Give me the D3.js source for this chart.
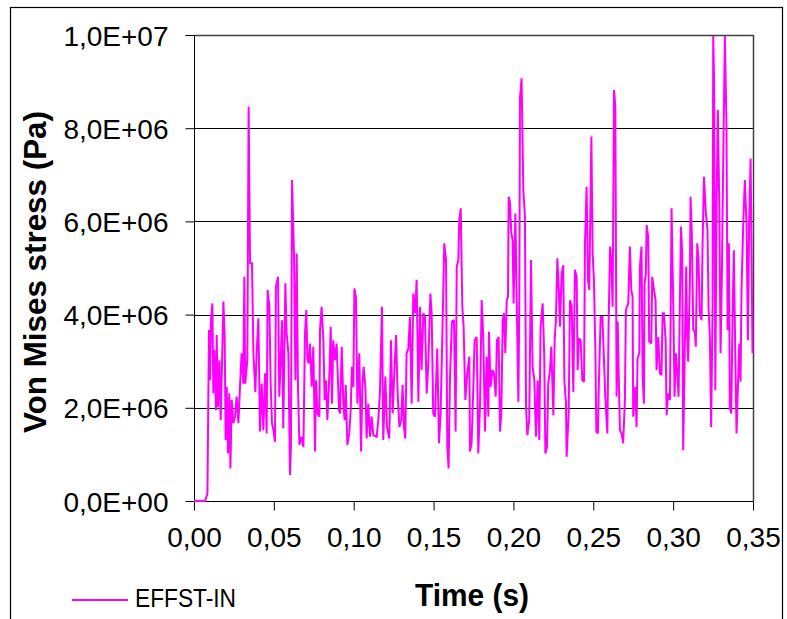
<!DOCTYPE html>
<html>
<head>
<meta charset="utf-8">
<script src="https://cdn.jsdelivr.net/npm/d3@7"></script>
<style>
  html, body { margin: 0; padding: 0; background: #fff; }
  svg { display: block; }
  text { font-family: "Liberation Sans", Arial, sans-serif; }
</style>
</head>
<body>
<div id="chart"></div>
<script>
// ---- data ----
const seriesName = "EFFST-IN";
const xTickValues = [0, 0.05, 0.10, 0.15, 0.20, 0.25, 0.30, 0.35];
const xTickLabels = ["0,00", "0,05", "0,10", "0,15", "0,20", "0,25", "0,30", "0,35"];
const yTickValues = [0, 2e6, 4e6, 6e6, 8e6, 1e7];
const yTickLabels = ["0,0E+00", "2,0E+06", "4,0E+06", "6,0E+06", "8,0E+06", "1,0E+07"];
const xTitle = "Time (s)";
const yTitle = "Von Mises stress (Pa)";

// time (s)
const timeS = [
0.0000,0.0069,0.0084,0.0090,0.0094,0.0100,0.0106,0.0115,0.0121,0.0127,0.0138,0.0142,0.0150,0.0159,0.0167,0.0175,0.0184,0.0192,0.0198,0.0205,
0.0213,0.0221,0.0228,0.0236,0.0246,0.0257,0.0267,0.0278,0.0288,0.0298,0.0309,0.0315,0.0321,0.0334,0.0342,0.0351,0.0363,0.0372,0.0384,0.0392,
0.0403,0.0413,0.0424,0.0434,0.0445,0.0455,0.0461,0.0472,0.0480,0.0488,0.0497,0.0507,0.0513,0.0526,0.0534,0.0543,0.0551,0.0559,0.0572,0.0580,
0.0591,0.0601,0.0607,0.0614,0.0626,0.0635,0.0643,0.0651,0.0660,0.0672,0.0685,0.0695,0.0703,0.0710,0.0718,0.0726,0.0737,0.0747,0.0758,0.0764,
0.0774,0.0785,0.0789,0.0799,0.0810,0.0818,0.0826,0.0835,0.0847,0.0856,0.0864,0.0872,0.0883,0.0893,0.0908,
0.0914,0.0925,0.0935,0.0943,0.0950,0.0960,0.0972,0.0981,0.0989,0.0998,0.1004,0.1014,0.1023,0.1035,0.1046,0.1054,0.1062,0.1073,0.1081,0.1091,
0.1102,0.1112,0.1123,0.1144,0.1154,0.1164,0.1177,0.1185,0.1198,0.1208,0.1223,0.1233,0.1244,0.1254,0.1265,0.1275,0.1286,0.1298,0.1306,0.1315,
0.1323,0.1331,0.1342,0.1352,0.1363,0.1373,0.1384,0.1394,0.1405,0.1415,0.1425,0.1436,0.1446,0.1457,0.1467,0.1480,0.1488,0.1498,0.1509,0.1523,
0.1534,0.1544,0.1557,0.1567,0.1578,0.1586,0.1594,0.1603,0.1615,0.1628,0.1638,0.1645,0.1655,0.1661,0.1670,0.1680,0.1688,0.1699,0.1711,0.1724,
0.1728,0.1738,0.1749,0.1757,0.1770,0.1780,0.1791,
0.1801,0.1811,0.1822,0.1832,0.1843,0.1847,0.1857,0.1868,0.1878,0.1889,0.1897,0.1907,0.1916,0.1924,0.1933,0.1941,0.1949,0.1958,0.1966,0.1970,
0.1978,0.1987,0.1995,0.2001,0.2012,0.2020,0.2031,0.2037,0.2041,0.2051,0.2062,0.2072,0.2079,0.2087,0.2099,0.2110,0.2120,0.2131,0.2141,0.2152,
0.2162,0.2170,0.2183,0.2193,0.2200,0.2210,0.2218,0.2229,0.2237,0.2250,0.2258,0.2266,0.2275,0.2285,0.2291,0.2302,0.2312,0.2319,0.2329,0.2333,
0.2346,0.2354,0.2365,0.2375,0.2385,0.2396,0.2402,0.2410,0.2421,0.2431,0.2442,0.2448,0.2458,0.2467,0.2475,0.2488,0.2496,0.2504,0.2513,0.2519,
0.2529,0.2534,0.2546,0.2557,0.2567,0.2575,0.2588,0.2596,0.2605,0.2613,0.2621,0.2630,0.2638,0.2646,0.2653,0.2659,0.2667,
0.2677,0.2687,0.2698,0.2704,0.2719,0.2729,0.2738,0.2746,0.2750,0.2763,0.2771,0.2777,0.2788,0.2792,0.2802,0.2809,0.2817,0.2821,0.2829,0.2834,
0.2844,0.2850,0.2863,0.2869,0.2880,0.2890,0.2896,0.2907,0.2917,0.2927,0.2934,0.2942,0.2953,0.2959,0.2969,0.2980,0.2990,0.3001,0.3009,0.3017,
0.3026,0.3034,0.3040,0.3049,0.3057,0.3063,0.3074,0.3082,0.3088,0.3094,0.3105,0.3109,0.3117,0.3126,0.3136,0.3142,0.3151,0.3159,0.3167,0.3178,
0.3184,0.3193,0.3205,0.3215,0.3222,0.3230,0.3238,0.3247,0.3251,0.3257,0.3264,0.3272,0.3280,0.3289,0.3297,0.3305,0.3314,0.3324,0.3334,0.3341,
0.3349,0.3355,0.3364,0.3372,0.3380,0.3389,0.3397,0.3403,0.3414,0.3422,0.3428,0.3439,0.3449,0.3460,0.3468,0.3476,0.3485,0.3497
];

// Von Mises stress, in MPa (x 1e6 Pa)
const stressMPa = [
0.00,0.00,0.16,2.31,3.67,2.59,3.88,4.24,2.31,3.24,1.95,3.56,2.02,3.02,1.74,2.88,4.28,3.52,1.31,2.45,
1.02,2.31,0.70,2.17,1.67,1.81,2.24,1.67,2.45,3.17,2.52,4.81,2.52,3.02,8.46,5.10,5.10,3.17,2.34,3.17,
3.92,1.49,2.52,1.52,2.74,1.45,4.53,4.17,2.52,1.67,1.52,1.27,4.60,4.81,2.24,3.02,3.88,1.56,4.67,3.60,
3.17,0.56,1.16,6.89,5.31,2.59,5.31,2.45,1.20,1.38,1.16,3.60,4.10,3.06,2.95,3.38,2.45,3.31,1.06,2.59,
1.88,1.81,3.67,4.17,3.45,2.17,2.59,1.74,2.67,3.74,2.09,3.45,3.02,3.38,1.95,
1.88,3.31,2.09,1.74,2.49,1.20,1.45,1.95,2.88,2.45,4.56,4.38,2.09,3.17,1.06,2.45,2.88,2.45,1.34,2.09,
1.38,1.81,1.41,1.38,1.74,2.31,4.17,1.31,2.67,1.59,1.34,3.45,1.88,2.74,3.56,2.31,1.59,1.74,2.49,1.59,
1.34,3.17,3.27,3.95,2.09,4.45,4.03,4.74,2.13,4.17,2.81,4.03,3.95,2.31,2.95,4.45,4.03,1.88,1.81,3.27,
1.24,1.88,3.88,5.53,5.17,1.16,0.70,2.67,3.85,3.88,1.49,5.03,5.17,6.03,6.28,4.17,3.74,2.17,2.74,3.10,
1.06,1.24,2.45,3.45,3.52,1.02,2.09,
4.31,3.52,1.49,3.10,1.81,3.63,2.45,2.81,2.74,2.24,3.45,3.52,1.49,1.88,3.88,4.03,3.17,4.31,4.38,6.53,
6.42,5.74,5.60,4.24,6.17,4.38,2.13,4.38,8.64,9.07,6.67,6.10,2.02,1.41,1.74,5.17,2.88,2.59,1.38,2.59,
1.31,3.74,4.24,3.10,1.02,1.16,2.52,2.81,3.31,1.84,3.45,3.88,5.21,4.45,3.74,4.88,5.06,2.59,2.09,0.95,
1.88,4.31,4.17,2.34,4.96,4.81,2.81,3.49,3.45,2.59,2.56,5.53,6.74,4.74,4.53,7.82,5.31,4.74,3.24,1.49,
1.45,2.38,3.95,3.95,3.02,2.24,1.45,3.81,5.46,5.17,4.17,8.82,8.46,2.24,3.85,2.74,1.52,
1.45,1.24,2.17,4.10,4.24,5.46,4.53,4.38,1.81,2.45,1.59,3.06,3.17,5.03,5.46,2.67,2.09,4.67,4.88,5.92,
5.67,3.42,3.38,4.81,4.53,4.31,2.81,3.52,2.74,2.70,4.03,4.03,3.45,1.84,2.31,2.17,6.28,4.17,2.24,3.17,
2.74,2.24,3.74,5.89,5.31,1.09,3.52,5.03,3.52,2.99,4.74,6.53,5.74,3.67,3.63,3.31,5.53,5.17,4.03,3.88,
5.46,6.96,6.17,5.81,4.10,3.52,1.59,4.17,9.98,8.89,2.38,6.39,8.39,6.31,3.17,4.81,7.46,9.98,8.03,3.67,
5.53,1.99,1.88,3.95,5.38,3.17,1.45,2.17,3.38,2.56,4.53,5.96,6.89,5.89,3.45,6.03,7.35,3.17
];

// ---- drawing ----
const W = 787, H = 619;
const plot = { left: 194, right: 753, top: 35, bottom: 501 };
const data = timeS.map((t, i) => ({ t: t, v: stressMPa[i] * 1e6 }));

const x = d3.scaleLinear().domain([0, 0.35]).range([plot.left, plot.right]);
const y = d3.scaleLinear().domain([0, 1e7]).range([plot.bottom, plot.top]);

const svg = d3.select("#chart").append("svg")
  .attr("width", W).attr("height", H);

svg.append("rect").attr("width", W).attr("height", H).attr("fill", "#fff");

// outer chart frame
svg.append("rect")
  .attr("x", 10.5).attr("y", 7.5).attr("width", 772).attr("height", 640)
  .attr("fill", "none").attr("stroke", "#000").attr("stroke-width", 1.2);

// gridlines
svg.append("g")
  .selectAll("line").data(yTickValues.filter(v => v > 0 && v < 1e7)).join("line")
  .attr("x1", plot.left).attr("x2", plot.right)
  .attr("y1", d => Math.round(y(d)) + 0.5).attr("y2", d => Math.round(y(d)) + 0.5)
  .attr("stroke", "#000").attr("stroke-width", 1);

// plot border (top & right)
svg.append("path")
  .attr("d", `M${plot.left},${plot.top + 0.5}H${plot.right + 0.5}V${plot.bottom}`)
  .attr("fill", "none").attr("stroke", "#404040").attr("stroke-width", 1.5);

// axes
const yAxis = d3.axisLeft(y).tickValues(yTickValues)
  .tickFormat((d, i) => yTickLabels[i]).tickSize(9).tickPadding(17);
const gy = svg.append("g").attr("transform", `translate(${plot.left + 0.5},0)`).call(yAxis);
gy.select(".domain").attr("stroke", "#000").attr("d", `M-9,${plot.top + 0.5}H0V${plot.bottom + 0.5}`);
gy.selectAll(".tick line").attr("stroke", "#000");
gy.selectAll(".tick text")
  .attr("font-family", "'Liberation Sans', Arial, sans-serif")
  .attr("font-size", 28).attr("fill", "#000").attr("dy", "0.36em");

const xAxis = d3.axisBottom(x).tickValues(xTickValues)
  .tickFormat((d, i) => xTickLabels[i]).tickSize(9).tickPadding(6);
const gx = svg.append("g").attr("transform", `translate(0,${plot.bottom + 0.5})`).call(xAxis);
gx.select(".domain").attr("stroke", "#000").attr("d", `M${plot.left},0H${plot.right + 0.5}`);
gx.selectAll(".tick line").attr("stroke", "#000");
gx.selectAll(".tick text")
  .attr("font-family", "'Liberation Sans', Arial, sans-serif")
  .attr("font-size", 28).attr("fill", "#000").attr("dy", "1.1em");

// series line
const line = d3.line().x(d => x(d.t)).y(d => y(d.v));
svg.append("path").datum(data)
  .attr("d", line)
  .attr("fill", "none").attr("stroke", "#ff00ff").attr("stroke-width", 2)
  .attr("stroke-linejoin", "miter").attr("stroke-miterlimit", 2);

// axis titles
svg.append("text")
  .attr("x", 472).attr("y", 606).attr("text-anchor", "middle")
  .attr("font-size", 32).attr("font-weight", "bold")
  .attr("textLength", 114).attr("lengthAdjust", "spacingAndGlyphs")
  .text(xTitle);

svg.append("text")
  .attr("transform", "translate(46,272) rotate(-90)")
  .attr("text-anchor", "middle")
  .attr("font-size", 32).attr("font-weight", "bold")
  .attr("textLength", 322).attr("lengthAdjust", "spacingAndGlyphs")
  .text(yTitle);

// legend
svg.append("line")
  .attr("x1", 72).attr("x2", 128).attr("y1", 600).attr("y2", 600)
  .attr("stroke", "#ff00ff").attr("stroke-width", 2);
svg.append("text")
  .attr("x", 135).attr("y", 607)
  .attr("font-size", 25)
  .attr("textLength", 101).attr("lengthAdjust", "spacingAndGlyphs")
  .text(seriesName);
</script>
</body>
</html>
